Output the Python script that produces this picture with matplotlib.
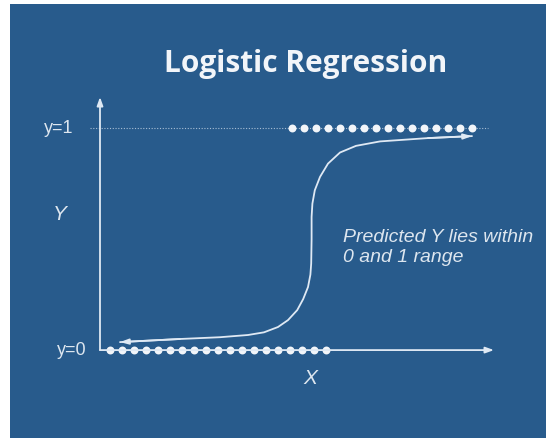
import numpy as np
import matplotlib.pyplot as plt

# ============================================================
# DATA
# ============================================================

# observed class-1 points (y = 1)
top_x = [4.8, 5.1, 5.4, 5.7, 6.0, 6.3, 6.6, 6.9, 7.2, 7.5, 7.8, 8.1, 8.4, 8.7, 9.0, 9.3]
top_y = [1.0] * len(top_x)

# observed class-0 points (y = 0)
bot_x = [0.25, 0.55, 0.85, 1.15, 1.45, 1.75, 2.05, 2.35, 2.65, 2.95,
         3.25, 3.55, 3.85, 4.15, 4.45, 4.75, 5.05, 5.35, 5.65]
bot_y = [0.0] * len(bot_x)

# predicted curve
curve_x = [0.5, 2.0, 3.0, 3.7, 4.1, 4.45, 4.7, 4.93, 5.08, 5.2, 5.26, 5.28,
           5.29, 5.29, 5.31, 5.37, 5.5, 5.7, 6.0, 6.4, 7.0, 8.2, 9.3]
curve_y = [0.036, 0.05, 0.058, 0.068, 0.08, 0.104, 0.135, 0.18, 0.23, 0.284, 0.34, 0.39,
           0.5, 0.6, 0.66, 0.72, 0.78, 0.84, 0.89, 0.92, 0.94, 0.955, 0.964]

TITLE = "Logistic Regression"
NOTE_LINES = ["Predicted Y lies within", "0 and 1 range"]

# ============================================================
# STYLE
# ============================================================

BG = "#285b8c"
FG = "#f2f5f9"
LINE = "#dfe9f4"
TXT = "#dde6ef"

plt.rcParams['font.family'] = ['Liberation Sans', 'DejaVu Sans']

fig = plt.figure(figsize=(5.46, 4.38), dpi=100)
fig.patch.set_facecolor("white")

ax = fig.add_axes([10/546, 0, 536/546, 434/438])
ax.set_facecolor(BG)
for s in ax.spines.values():
    s.set_visible(False)
ax.set_xticks([])
ax.set_yticks([])

ax.set_xlim(-2.25, 11.15)
ax.set_ylim(-0.396, 1.559)

# ------------------------------------------------------------
# axes arrows
# ------------------------------------------------------------

arrow_kw = dict(arrowstyle='-|>,head_length=0.5,head_width=0.18',
                color=LINE, lw=1.3, shrinkA=0, shrinkB=0)

ax.annotate('', xy=(0, 1.14), xytext=(0, 0), arrowprops=arrow_kw)
ax.annotate('', xy=(9.85, 0), xytext=(0, 0), arrowprops=arrow_kw)

# y = 1 guide
ax.plot([-0.25, 9.7], [1, 1], linestyle=(0, (1, 1.5)), color=LINE, lw=0.8, alpha=0.7)

# ------------------------------------------------------------
# points
# ------------------------------------------------------------

ax.plot(top_x, top_y, 'o', color=FG, ms=5.7, mec='none')
ax.plot(bot_x, bot_y, 'o', color=FG, ms=5.7, mec='none')

# ------------------------------------------------------------
# curve with arrows on both ends
# ------------------------------------------------------------

ax.plot(curve_x, curve_y, color=LINE, lw=1.3, solid_capstyle='round')

end_kw = dict(arrowstyle='-|>,head_length=0.5,head_width=0.16',
              color=LINE, lw=1.3, shrinkA=0, shrinkB=0)
ax.annotate('', xy=(curve_x[0], curve_y[0]), xytext=(curve_x[1], curve_y[1]), arrowprops=end_kw)
ax.annotate('', xy=(curve_x[-1], curve_y[-1]), xytext=(curve_x[-2], curve_y[-2]), arrowprops=end_kw)

# ------------------------------------------------------------
# text
# ------------------------------------------------------------

ax.text(5.14, 1.252, TITLE, color=FG, fontsize=21.5, fontweight='bold',
        family=['Open Sans', 'DejaVu Sans'], ha='center', va='baseline')

ax.text(-0.675, 1.0, 'y=1', color=TXT, fontsize=13, ha='right', va='center')
ax.text(-0.325, 0.0, 'y=0', color=TXT, fontsize=13, ha='right', va='center')

ax.text(-1.0, 0.61, 'Y', color=TXT, fontsize=15, style='italic', ha='center', va='center')
ax.text(5.25, -0.126, 'X', color=TXT, fontsize=15, style='italic', ha='center', va='center')

ax.text(6.075, 0.486, NOTE_LINES[0], color=TXT, fontsize=14, style='italic',
        ha='left', va='baseline')
ax.text(6.075, 0.396, NOTE_LINES[1], color=TXT, fontsize=14, style='italic',
        ha='left', va='baseline')

fig.savefig("out.png", dpi=100, facecolor=fig.get_facecolor())
